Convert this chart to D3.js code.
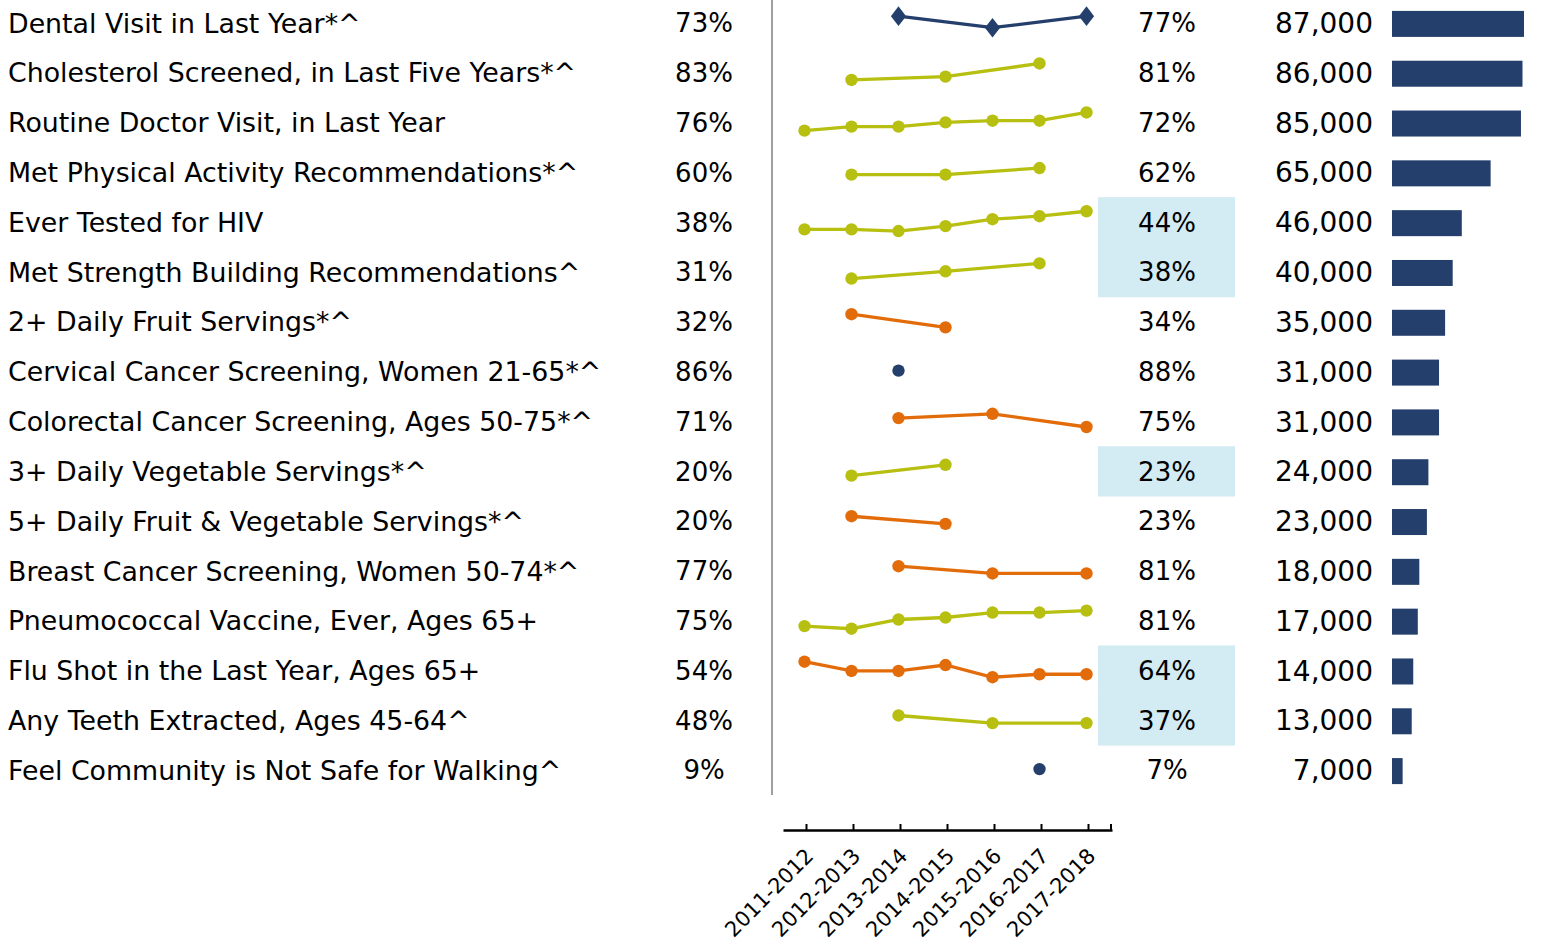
<!DOCTYPE html>
<html>
<head>
<meta charset="utf-8">
<script src="https://cdn.jsdelivr.net/npm/d3@7"></script>
<style>
  body { margin: 0; background: #fff; }
  svg text { font-family: "DejaVu Sans", sans-serif; fill: #000; }
</style>
</head>
<body>
<svg id="chart" width="1546" height="944"></svg>
<script>
// measures, top to bottom
var labels = [
  "Dental Visit in Last Year*^",
  "Cholesterol Screened, in Last Five Years*^",
  "Routine Doctor Visit, in Last Year",
  "Met Physical Activity Recommendations*^",
  "Ever Tested for HIV",
  "Met Strength Building Recommendations^",
  "2+ Daily Fruit Servings*^",
  "Cervical Cancer Screening, Women 21-65*^",
  "Colorectal Cancer Screening, Ages 50-75*^",
  "3+ Daily Vegetable Servings*^",
  "5+ Daily Fruit & Vegetable Servings*^",
  "Breast Cancer Screening, Women 50-74*^",
  "Pneumococcal Vaccine, Ever, Ages 65+",
  "Flu Shot in the Last Year, Ages 65+",
  "Any Teeth Extracted, Ages 45-64^",
  "Feel Community is Not Safe for Walking^"
];
var firstPct = [73, 83, 76, 60, 38, 31, 32, 86, 71, 20, 20, 77, 75, 54, 48, 9];
var lastPct = [77, 81, 72, 62, 44, 38, 34, 88, 75, 23, 23, 81, 81, 64, 37, 7];
var counts = [87000, 86000, 85000, 65000, 46000, 40000, 35000, 31000, 31000, 24000, 23000, 18000, 17000, 14000, 13000, 7000];
var highlighted = [0, 0, 0, 0, 1, 1, 0, 0, 0, 1, 0, 0, 0, 1, 1, 0];
var years = ["2011-2012", "2012-2013", "2013-2014", "2014-2015", "2015-2016", "2016-2017", "2017-2018"];
var trendColor = ["navy", "lime", "lime", "lime", "lime", "lime", "orange", "navy", "orange", "lime", "orange", "orange", "lime", "orange", "lime", "navy"];
var trends = [
  [null, null, 77, null, 73.5, null, 77],
  [null, 76, null, 77, null, 81, null],
  [66.5, 67.7, 67.7, 69, 69.5, 69.5, 72],
  [null, 60, null, 60, null, 62, null],
  [38.5, 38.5, 38, 39.5, 41.6, 42.5, 44],
  [null, 33.4, null, 35.6, null, 38, null],
  [null, 38, null, 34, null, null, null],
  [null, null, 88, null, null, null, null],
  [null, null, 77.7, null, 79, null, 75],
  [null, 19.7, null, 23, null, null, null],
  [null, 25.3, null, 23, null, null, null],
  [null, null, 83.2, null, 81, null, 81],
  [76.3, 75.5, 78.3, 78.9, 80.4, 80.4, 81],
  [67.8, 65, 65, 66.8, 63.1, 64, 64],
  [null, null, 39.3, null, 37, null, 37],
  [null, null, null, null, null, 7, null]
];

var colors = { navy: "#243f6b", lime: "#b7bf10", orange: "#e36c0a" };

var svg = d3.select("#chart");

var y = d3.scaleBand().domain(d3.range(labels.length)).range([-2, 795]);
var cy = function(i){ return y(i) + y.bandwidth() / 2; };
var x = d3.scaleBand().domain(years).range([783, 1112]);
var cx = function(yr){ return x(yr) + x.bandwidth() / 2 - 2; };
var spark = d3.scaleLinear().domain([-10, 10]).range([33, -33]);
var barW = d3.scaleLinear().domain([0, 87000]).range([0, 132]);
var fmt = d3.format(",");

// highlight boxes behind the latest value
svg.append("g").selectAll("rect")
  .data(d3.range(labels.length).filter(function(i){ return highlighted[i]; }))
  .join("rect")
  .attr("x", 1098).attr("width", 137)
  .attr("y", function(i){ return cy(i) - 25; })
  .attr("height", y.bandwidth() + 0.5)
  .attr("fill", "#d3ebf2");

// separator
svg.append("line")
  .attr("x1", 772).attr("x2", 772).attr("y1", 0).attr("y2", 795)
  .attr("stroke", "#7f7f7f").attr("stroke-width", 1.5);

var rows = svg.append("g").selectAll("g")
  .data(labels)
  .join("g")
  .attr("transform", function(d, i){ return "translate(0," + cy(i) + ")"; });

rows.append("text")
  .attr("x", 8).attr("dy", "0.36em")
  .style("font-size", "26.8px")
  .text(function(d){ return d; });

rows.append("text")
  .attr("x", 704).attr("dy", "0.36em")
  .attr("text-anchor", "middle")
  .style("font-size", "26px")
  .text(function(d, i){ return firstPct[i] + "%"; });

rows.append("text")
  .attr("x", 1167).attr("dy", "0.36em")
  .attr("text-anchor", "middle")
  .style("font-size", "26px")
  .text(function(d, i){ return lastPct[i] + "%"; });

rows.append("text")
  .attr("x", 1373).attr("dy", "0.36em")
  .attr("text-anchor", "end")
  .style("font-size", "28px")
  .text(function(d, i){ return fmt(counts[i]); });

rows.append("rect")
  .attr("x", 1392).attr("y", -12).attr("height", 26)
  .attr("width", function(d, i){ return barW(counts[i]); })
  .attr("fill", colors.navy);

// sparklines
rows.each(function(d, i){
  var g = d3.select(this);
  var pts = trends[i].map(function(v, j){ return { yr: years[j], v: v }; })
    .filter(function(p){ return p.v !== null; });
  var ext = d3.extent(pts, function(p){ return p.v; });
  var mid = (ext[0] + ext[1]) / 2;
  var py = function(p){ return -1 + spark(p.v - mid); };
  var col = colors[trendColor[i]];
  var line = d3.line().x(function(p){ return cx(p.yr); }).y(py);
  if (pts.length > 1) {
    g.append("path").datum(pts)
      .attr("d", line)
      .attr("fill", "none")
      .attr("stroke", col).attr("stroke-width", 3.3);
  }
  if (i === 0) {
    g.selectAll(".m").data(pts).join("path")
      .attr("d", d3.symbol(d3.symbolDiamond, 110))
      .attr("transform", function(p){ return "translate(" + cx(p.yr) + "," + py(p) + ") scale(1.35,1)"; })
      .attr("fill", col);
  } else {
    g.selectAll(".m").data(pts).join("circle")
      .attr("cx", function(p){ return cx(p.yr); })
      .attr("cy", py)
      .attr("r", 6.2)
      .attr("fill", col);
  }
});

// year axis
var axis = svg.append("g")
  .attr("transform", "translate(0,830)")
  .call(d3.axisBottom(x).tickSizeInner(-6).tickSizeOuter(0).tickPadding(0));
axis.select(".domain").attr("stroke", "#000").attr("stroke-width", 2.5);
axis.selectAll(".tick line").attr("stroke", "#000").attr("stroke-width", 2);
axis.append("line")
  .attr("x1", 1111).attr("x2", 1111).attr("y1", 0).attr("y2", -6)
  .attr("stroke", "#000").attr("stroke-width", 2);
axis.selectAll(".tick text")
  .attr("y", 0).attr("dy", "0.35em")
  .attr("text-anchor", "end")
  .attr("transform", "translate(3,22) rotate(-45)")
  .style("font-size", "21px")
  .style("font-family", "'DejaVu Sans', sans-serif")
  .attr("fill", "#000");
</script>
</body>
</html>
